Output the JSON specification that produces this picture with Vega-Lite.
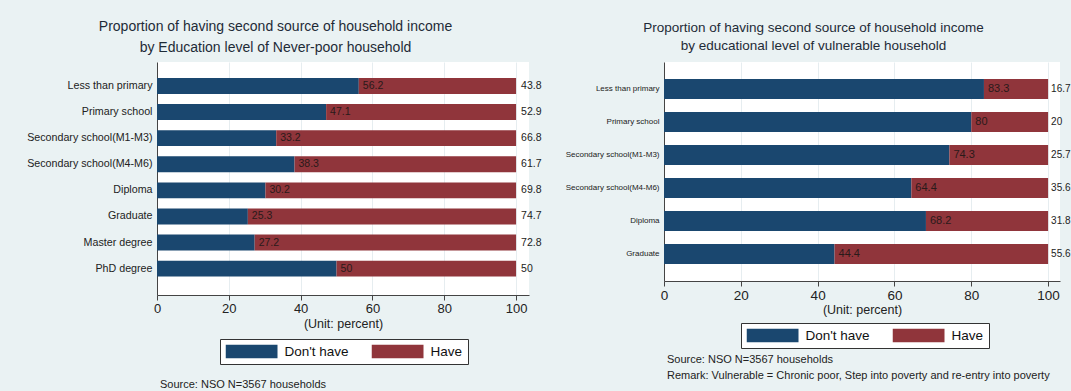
{
  "$schema": "https://vega.github.io/schema/vega-lite/v6.json",
  "background": "#eaf2f3",
  "padding": {"left": 26, "top": 19, "right": 0, "bottom": 4},
  "spacing": 23,
  "resolve": {"scale": {"color": "independent"}, "legend": {"color": "independent"}},
  "config": {
    "font": "Liberation Sans",
    "view": {"stroke": null},
    "axis": {
      "labelColor": "#222222",
      "titleColor": "#222222",
      "domainColor": "#444444",
      "tickColor": "#444444",
      "titleFontWeight": "normal",
      "gridColor": "#e6edf0"
    },
    "legend": {
      "direction": "horizontal",
      "symbolType": "M-1,-0.27H1V0.27H-1Z",
      "symbolSize": 2704,
      "symbolStrokeWidth": 0,
      "symbolOpacity": 1,
      "clipHeight": 14,
      "labelFontSize": 13.5,
      "labelColor": "#111111",
      "labelOffset": 7,
      "columnPadding": 22,
      "padding": 5.5,
      "strokeColor": "#333333",
      "fillColor": "white"
    },
    "title": {"fontWeight": "normal", "color": "#222222"}
  },
  "datasets": {
    "neverpoor": [
      {"level": "Less than primary", "status": "Don't have", "value": 56.2},
      {"level": "Less than primary", "status": "Have", "value": 43.8},
      {"level": "Primary school", "status": "Don't have", "value": 47.1},
      {"level": "Primary school", "status": "Have", "value": 52.9},
      {"level": "Secondary school(M1-M3)", "status": "Don't have", "value": 33.2},
      {"level": "Secondary school(M1-M3)", "status": "Have", "value": 66.8},
      {"level": "Secondary school(M4-M6)", "status": "Don't have", "value": 38.3},
      {"level": "Secondary school(M4-M6)", "status": "Have", "value": 61.7},
      {"level": "Diploma", "status": "Don't have", "value": 30.2},
      {"level": "Diploma", "status": "Have", "value": 69.8},
      {"level": "Graduate", "status": "Don't have", "value": 25.3},
      {"level": "Graduate", "status": "Have", "value": 74.7},
      {"level": "Master degree", "status": "Don't have", "value": 27.2},
      {"level": "Master degree", "status": "Have", "value": 72.8},
      {"level": "PhD degree", "status": "Don't have", "value": 50},
      {"level": "PhD degree", "status": "Have", "value": 50}
    ],
    "vulnerable": [
      {"level": "Less than primary", "status": "Don't have", "value": 83.3},
      {"level": "Less than primary", "status": "Have", "value": 16.7},
      {"level": "Primary school", "status": "Don't have", "value": 80},
      {"level": "Primary school", "status": "Have", "value": 20},
      {"level": "Secondary school(M1-M3)", "status": "Don't have", "value": 74.3},
      {"level": "Secondary school(M1-M3)", "status": "Have", "value": 25.7},
      {"level": "Secondary school(M4-M6)", "status": "Don't have", "value": 64.4},
      {"level": "Secondary school(M4-M6)", "status": "Have", "value": 35.6},
      {"level": "Diploma", "status": "Don't have", "value": 68.2},
      {"level": "Diploma", "status": "Have", "value": 31.8},
      {"level": "Graduate", "status": "Don't have", "value": 44.4},
      {"level": "Graduate", "status": "Have", "value": 55.6}
    ]
  },
  "hconcat": [
    {
      "data": {"name": "neverpoor"},
      "width": 372,
      "height": 233,
      "view": {"fill": "white", "stroke": null},
      "title": {
        "text": "Source: NSO N=3567 households",
        "orient": "bottom",
        "anchor": "start",
        "frame": "group",
        "fontSize": 11,
        "offset": 14,
        "dx": 3
      },
      "encoding": {
        "y": {
          "field": "level",
          "type": "nominal",
          "sort": ["Less than primary", "Primary school", "Secondary school(M1-M3)", "Secondary school(M4-M6)", "Diploma", "Graduate", "Master degree", "PhD degree"],
          "title": null,
          "scale": {"paddingInner": 0.39, "paddingOuter": 0.66, "align": 0.465},
          "axis": {"ticks": false, "labelFontSize": 10.7, "labelPadding": 5}
        }
      },
      "resolve": {"axis": {"x": "independent"}},
      "layer": [
        {
          "mark": {"type": "bar"},
          "encoding": {
            "x": {
              "field": "value",
              "type": "quantitative",
              "stack": "zero",
              "scale": {"domain": [0, 103.6], "nice": false},
              "axis": {"values": [0, 20, 40, 60, 80, 100], "title": "(Unit: percent)", "titleFontSize": 12.5, "labelFontSize": 13, "tickSize": 5, "labelPadding": 2, "titlePadding": 2, "grid": true, "labelFlush": false}
            },
            "color": {
              "field": "status",
              "type": "nominal",
              "scale": {"domain": ["Don't have", "Have"], "range": ["#1a476f", "#90353b"]},
              "legend": {"title": null, "orient": "none", "legendX": 63, "legendY": 277}
            }
          }
        },
        {
          "transform": [{"filter": "datum.status != 'Have'"}],
          "mark": {"type": "text", "align": "left", "dx": 4, "fontSize": 10.5, "color": "#2a1a1a"},
          "encoding": {
            "x": {
              "field": "value",
              "type": "quantitative",
              "axis": {"orient": "top", "labels": false, "ticks": false, "domain": false, "grid": false,
                "title": ["Proportion of having second source of household income", "by Education level of Never-poor household"],
                "titleFontSize": 14, "titleLineHeight": 21.5, "titleX": 118, "titleAlign": "center", "titlePadding": 7.5, "titleColor": "#1e2b37"}
            },
            "text": {"field": "value", "type": "nominal"}
          }
        },
        {
          "transform": [{"filter": "datum.status == 'Have'"}],
          "mark": {"type": "text", "align": "left", "dx": 5, "fontSize": 10.5, "color": "#222222"},
          "encoding": {
            "x": {"datum": 100, "type": "quantitative", "axis": null},
            "text": {"field": "value", "type": "nominal"}
          }
        }
      ]
    },
    {
      "data": {"name": "vulnerable"},
      "width": 396,
      "height": 219,
      "view": {"fill": "white", "stroke": null},
      "title": {
        "text": ["Source: NSO N=3567 households", "Remark: Vulnerable = Chronic poor, Step into poverty and re-entry into poverty"],
        "orient": "bottom",
        "anchor": "start",
        "frame": "group",
        "fontSize": 11,
        "lineHeight": 16,
        "offset": 5,
        "dx": 3
      },
      "encoding": {
        "y": {
          "field": "level",
          "type": "nominal",
          "sort": ["Less than primary", "Primary school", "Secondary school(M1-M3)", "Secondary school(M4-M6)", "Diploma", "Graduate"],
          "title": null,
          "scale": {"paddingInner": 0.394, "paddingOuter": 0.515, "align": 0.5},
          "axis": {"ticks": false, "labelFontSize": 8, "labelPadding": 5}
        }
      },
      "resolve": {"axis": {"x": "independent"}},
      "layer": [
        {
          "mark": {"type": "bar"},
          "encoding": {
            "x": {
              "field": "value",
              "type": "quantitative",
              "stack": "zero",
              "scale": {"domain": [0, 103.1], "nice": false},
              "axis": {"values": [0, 20, 40, 60, 80, 100], "title": "(Unit: percent)", "titleFontSize": 12.5, "labelFontSize": 13.5, "tickSize": 5, "labelPadding": 2, "titlePadding": 2, "grid": true, "labelFlush": false}
            },
            "color": {
              "field": "status",
              "type": "nominal",
              "scale": {"domain": ["Don't have", "Have"], "range": ["#1a476f", "#90353b"]},
              "legend": {"title": null, "orient": "none", "legendX": 77, "legendY": 261}
            }
          }
        },
        {
          "transform": [{"filter": "datum.status != 'Have'"}],
          "mark": {"type": "text", "align": "left", "dx": 4, "fontSize": 11, "color": "#2a1a1a"},
          "encoding": {
            "x": {
              "field": "value",
              "type": "quantitative",
              "axis": {"orient": "top", "labels": false, "ticks": false, "domain": false, "grid": false,
                "title": ["Proportion of having second source of household income", "by educational level of vulnerable household"],
                "titleFontSize": 13.5, "titleLineHeight": 18, "titleX": 149, "titleAlign": "center", "titlePadding": 9.5, "titleColor": "#1e2b37"}
            },
            "text": {"field": "value", "type": "nominal"}
          }
        },
        {
          "transform": [{"filter": "datum.status == 'Have'"}],
          "mark": {"type": "text", "align": "left", "dx": 3, "fontSize": 10, "color": "#222222"},
          "encoding": {
            "x": {"datum": 100, "type": "quantitative", "axis": null},
            "text": {"field": "value", "type": "nominal"}
          }
        }
      ]
    }
  ]
}
